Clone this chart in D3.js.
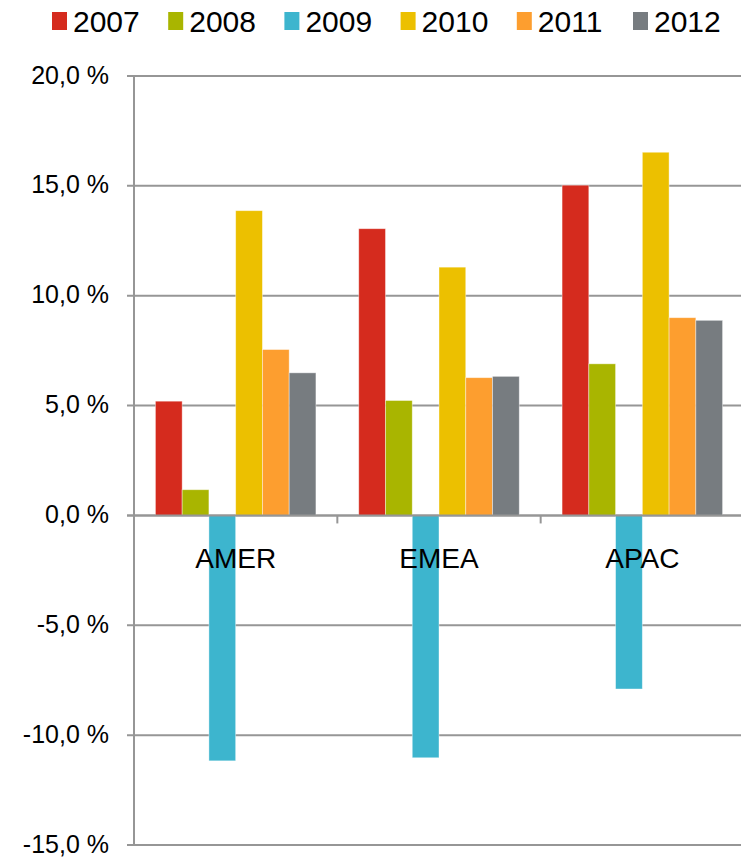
<!DOCTYPE html>
<html>
<head>
<meta charset="utf-8">
<script src="https://cdn.jsdelivr.net/npm/d3@7"></script>
<style>
  html, body { margin: 0; padding: 0; background: #fff; }
  svg { display: block; font-family: "Liberation Sans", Arial, sans-serif; }
</style>
</head>
<body>
<svg id="chart" width="741" height="857"></svg>
<script>
const categories = ["AMER", "EMEA", "APAC"];
const years = ["2007", "2008", "2009", "2010", "2011", "2012"];
const v2007 = [5.2, 13.05, 15.03];
const v2008 = [1.17, 5.23, 6.9];
const v2009 = [-11.17, -11.03, -7.9];
const v2010 = [13.87, 11.3, 16.53];
const v2011 = [7.55, 6.27, 9.0];
const v2012 = [6.49, 6.33, 8.88];
const seriesValues = [v2007, v2008, v2009, v2010, v2011, v2012];
const colors = ["#D52B1E", "#A9B500", "#3DB5CE", "#ECC000", "#FD9E2F", "#777C80"];
const yTicks = [20, 15, 10, 5, 0, -5, -10, -15];

(function () {
const svg = d3.select("#chart");
const pLeft = 134, pRight = 744, pTop = 76, pBottom = 845;

const y = d3.scaleLinear().domain([-15, 20]).range([pBottom, pTop]);
const x0 = d3.scaleBand().domain(categories).range([pLeft, pRight]).padding(0);
const x1 = d3.scaleBand().domain(years).range([0, x0.bandwidth()]).paddingInner(0).paddingOuter(0.8);

const fmt = v => d3.format(".1f")(v).replace(".", ",").replace("\u2212", "-") + " %";

// gridlines
svg.append("g").selectAll("line").data(yTicks).join("line")
  .attr("x1", pLeft - 7).attr("x2", pRight)
  .attr("y1", d => y(d)).attr("y2", d => y(d))
  .attr("stroke", "#969696").attr("stroke-width", 2);

// y labels
svg.append("g").selectAll("text").data(yTicks).join("text")
  .attr("x", 109).attr("y", d => y(d))
  .attr("dy", "0.3em")
  .attr("text-anchor", "end")
  .attr("font-size", 25)
  .attr("fill", "#000")
  .text(fmt);

// bars
const groups = svg.append("g").selectAll("g").data(years).join("g")
  .attr("fill", (d, i) => colors[i]);
groups.selectAll("rect")
  .data((yr, i) => categories.map((c, j) => ({ c, yr, v: seriesValues[i][j] })))
  .join("rect")
  .attr("x", d => x0(d.c) + x1(d.yr))
  .attr("width", x1.bandwidth())
  .attr("y", d => y(Math.max(0, d.v)))
  .attr("height", d => Math.abs(y(d.v) - y(0)))
  .attr("stroke", "rgba(255,255,255,0.5)").attr("stroke-width", 0.8);

// y axis line
svg.append("line").attr("x1", pLeft).attr("x2", pLeft).attr("y1", pTop).attr("y2", pBottom)
  .attr("stroke", "#969696").attr("stroke-width", 2);

// zero line on top of bars
svg.append("line").attr("x1", pLeft - 7).attr("x2", pRight).attr("y1", y(0)).attr("y2", y(0))
  .attr("stroke", "#969696").attr("stroke-width", 2);

// category ticks
svg.append("g").selectAll("line").data(categories.slice(1)).join("line")
  .attr("x1", d => x0(d)).attr("x2", d => x0(d))
  .attr("y1", y(0)).attr("y2", y(0) + 8)
  .attr("stroke", "#969696").attr("stroke-width", 2);

// category labels
svg.append("g").selectAll("text").data(categories).join("text")
  .attr("x", d => x0(d) + x0.bandwidth() / 2)
  .attr("y", 568)
  .attr("text-anchor", "middle")
  .attr("font-size", 28)
  .attr("fill", "#000")
  .text(d => d);

// legend
const legend = svg.append("g").selectAll("g").data(years).join("g")
  .attr("transform", (d, i) => `translate(${52 + i * 116.2},0)`);
legend.append("rect").attr("x", 0).attr("y", 12).attr("width", 15).attr("height", 18)
  .attr("fill", (d, i) => colors[i]);
legend.append("text").attr("x", 21).attr("y", 32)
  .attr("font-size", 30)
  .attr("fill", "#000")
  .text(d => d);
})();
</script>
</body>
</html>
